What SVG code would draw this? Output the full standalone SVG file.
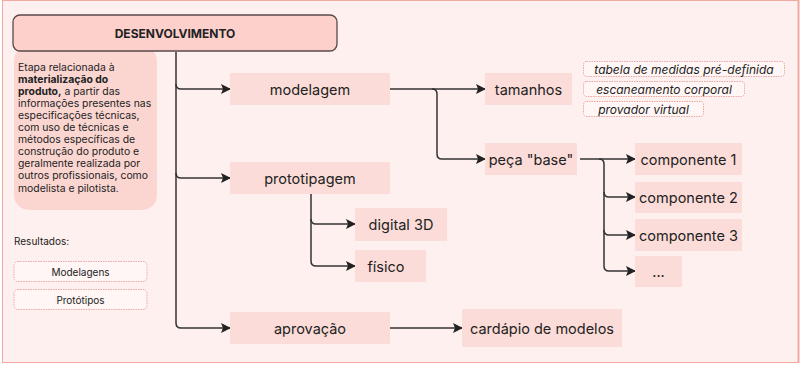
<svg xmlns="http://www.w3.org/2000/svg" width="804" height="367" viewBox="0 0 804 367">
<style>
.node{fill:#fcdcd8}
.nt{font-family:Inter,"Open Sans",sans-serif;font-size:14.5px;fill:#222;text-anchor:middle;dominant-baseline:central}
.con{fill:none;stroke:#333;stroke-width:1.5}
.tag{fill:#fff6f5;stroke:#e8a9a2;stroke-width:1;stroke-dasharray:1.5 1}
.tt{font-family:Inter,"Open Sans",sans-serif;font-size:12px;font-style:italic;fill:#222;text-anchor:middle;dominant-baseline:central}
.desc{font-family:Inter,"Open Sans",sans-serif;font-size:10.4px;fill:#222}
.res{font-family:Inter,"Open Sans",sans-serif;font-size:10px;fill:#222}
</style>
<defs>
<marker id="ah" viewBox="0 0 10 10" refX="9" refY="5" markerWidth="10" markerHeight="10" markerUnits="userSpaceOnUse" orient="auto">
<path d="M0,0 L10,5 L0,10 L2,5 Z" fill="#222"/>
</marker>
</defs>
<rect x="2.5" y="0.5" width="796" height="362" fill="#fef0ee" stroke="#f0aaa0" stroke-width="1"/>
<line x1="798.5" y1="0" x2="798.5" y2="363" stroke="#f0aaa0" stroke-width="2"/>

<g id="description">
<rect x="14" y="46" width="143" height="164" rx="15" fill="#fbd6d1"/>
<text class="desc" x="18" y="70.5">Etapa relacionada à</text>
<text class="desc" x="18" y="82.6" font-weight="bold">materialização do</text>
<text class="desc" x="18" y="94.7"><tspan font-weight="bold">produto,</tspan> a partir das</text>
<text class="desc" x="18" y="106.8">informações presentes nas</text>
<text class="desc" x="18" y="118.9">especificações técnicas,</text>
<text class="desc" x="18" y="131">com uso de técnicas e</text>
<text class="desc" x="18" y="143.1">métodos específicas de</text>
<text class="desc" x="18" y="155.2">construção do produto e</text>
<text class="desc" x="18" y="167.3">geralmente realizada por</text>
<text class="desc" x="18" y="179.4">outros profissionais, como</text>
<text class="desc" x="18" y="191.5">modelista e pilotista.</text>
</g>

<g id="connectors">
<path class="con" d="M176,52 V84 Q176,89 181,89 H230" marker-end="url(#ah)"/>
<path class="con" d="M176,84 V173 Q176,178 181,178 H230" marker-end="url(#ah)"/>
<path class="con" d="M176,173 V323 Q176,328 181,328 H230" marker-end="url(#ah)"/>
<path class="con" d="M390,89 H485" marker-end="url(#ah)"/>
<path class="con" d="M432,89 Q437,89 437,94 V154 Q437,159 442,159 H485" marker-end="url(#ah)"/>
<path class="con" d="M311,194 V219 Q311,224 316,224 H355" marker-end="url(#ah)"/>
<path class="con" d="M311,219 V261 Q311,266 316,266 H355" marker-end="url(#ah)"/>
<path class="con" d="M390,328 H462" marker-end="url(#ah)"/>
<path class="con" d="M580,159 H635" marker-end="url(#ah)"/>
<path class="con" d="M599,159 Q604,159 604,164 V192 Q604,197 609,197 H635" marker-end="url(#ah)"/>
<path class="con" d="M604,192 V230 Q604,235 609,235 H635" marker-end="url(#ah)"/>
<path class="con" d="M604,230 V266 Q604,271 609,271 H635" marker-end="url(#ah)"/>
</g>

<g id="header">
<rect x="13" y="15" width="324" height="36" rx="7" fill="#fdd0cc" stroke="#5a4848" stroke-width="1.3"/>
<text x="175" y="33.5" font-family="Inter,'Open Sans',sans-serif" font-size="12" font-weight="bold" fill="#222" text-anchor="middle" dominant-baseline="central">DESENVOLVIMENTO</text>
</g>

<g id="resultados">
<text class="res" x="14" y="244.5">Resultados:</text>
<rect class="tag" x="14" y="261.5" width="133" height="20" rx="4"/>
<text class="res" x="80.5" y="271.5" text-anchor="middle" dominant-baseline="central">Modelagens</text>
<rect class="tag" x="14" y="289.5" width="133" height="20" rx="4"/>
<text class="res" x="80.5" y="299.5" text-anchor="middle" dominant-baseline="central">Protótipos</text>
</g>

<g id="modelagem"><rect class="node" x="230" y="73" width="160" height="32"/><text class="nt" x="310" y="89">modelagem</text></g>
<g id="prototipagem"><rect class="node" x="230" y="162" width="160" height="32"/><text class="nt" x="310" y="178">prototipagem</text></g>
<g id="aprovacao"><rect class="node" x="230" y="312" width="160" height="32"/><text class="nt" x="310" y="328">aprovação</text></g>
<g id="tamanhos"><rect class="node" x="485" y="73" width="87" height="32"/><text class="nt" x="528.5" y="89">tamanhos</text></g>
<g id="peca-base"><rect class="node" x="485" y="143" width="92" height="32"/><text class="nt" x="531" y="159">peça "base"</text></g>
<g id="digital3d"><rect class="node" x="355" y="208" width="92" height="33"/><text class="nt" x="401" y="224">digital 3D</text></g>
<g id="fisico"><rect class="node" x="355" y="250" width="71" height="32"/><text class="nt" x="386" y="266">físico</text></g>
<g id="cardapio"><rect class="node" x="462" y="309" width="160" height="38"/><text class="nt" x="542" y="328">cardápio de modelos</text></g>
<g id="componente1"><rect class="node" x="635" y="143" width="107" height="32"/><text class="nt" x="688.5" y="159">componente 1</text></g>
<g id="componente2"><rect class="node" x="635" y="182" width="107" height="31"/><text class="nt" x="688.5" y="197">componente 2</text></g>
<g id="componente3"><rect class="node" x="635" y="219" width="107" height="32"/><text class="nt" x="688.5" y="235">componente 3</text></g>
<g id="etc"><rect class="node" x="635" y="256" width="47" height="31"/><text class="nt" x="658.5" y="271">...</text></g>

<g id="tag-tabela"><rect class="tag" x="583.5" y="61.5" width="201" height="15" rx="3"/><text class="tt" x="684" y="69">tabela de medidas pré-definida</text></g>
<g id="tag-escaneamento"><rect class="tag" x="583.5" y="81.5" width="161" height="15" rx="3"/><text class="tt" x="664" y="89">escaneamento corporal</text></g>
<g id="tag-provador"><rect class="tag" x="583.5" y="101.5" width="120" height="15" rx="3"/><text class="tt" x="643.5" y="109">provador virtual</text></g>
</svg>
